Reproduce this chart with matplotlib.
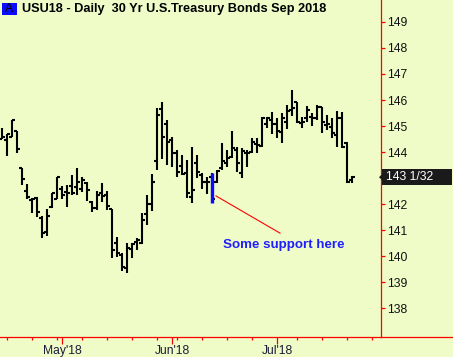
import matplotlib
matplotlib.use('Agg')
import matplotlib.pyplot as plt
import matplotlib.transforms as mtransforms
from matplotlib.patches import Rectangle, Polygon
from matplotlib.lines import Line2D
import numpy as np
import pandas as pd

plt.rcParams['font.family'] = ['Liberation Sans', 'DejaVu Sans']

# ---------------- data (USU18 daily OHLC) ----------------
opens = [144.50, 144.46, 144.58, 144.82, 143.38, 142.50, 142.15, 142.22, 141.46, 140.92,
         141.87, 142.19, 142.58, 142.47, 142.70, 142.65, 142.57, 142.80, 142.07, 141.83,
         142.41, 142.35, 141.81, 140.49, 140.04, 139.53, 140.27, 140.55, 140.49, 141.60,
         141.99, 143.65, 145.65, 145.08, 144.46, 143.95, 143.47, 143.18, 142.27, 143.57,
         143.12, 142.83, 143.05, 142.83, 143.40, 143.57, 143.82, 144.08, 143.18, 143.95,
         144.01, 144.30, 144.24, 145.07, 145.23, 145.07, 144.78, 145.17, 145.62, 145.91,
         145.10, 145.32, 145.36, 145.32, 145.74, 145.04, 144.97, 144.65, 145.30, 144.33,
         142.92]
highs = [144.91, 144.69, 145.23, 144.82, 143.38, 142.77, 142.22, 142.27, 141.54, 141.81,
         142.42, 143.04, 142.69, 142.73, 143.12, 143.37, 143.02, 142.85, 142.12, 142.50,
         142.80, 142.50, 141.81, 140.74, 140.10, 140.49, 140.49, 140.70, 141.64, 142.35,
         143.14, 145.68, 145.91, 145.23, 144.59, 144.08, 143.88, 143.69, 144.20, 143.88,
         143.18, 143.05, 143.18, 143.31, 144.33, 144.08, 144.81, 144.20, 144.14, 144.08,
         144.55, 144.55, 145.36, 145.36, 145.53, 145.30, 145.49, 145.81, 146.38, 145.93,
         145.36, 145.78, 145.49, 145.81, 145.74, 145.42, 145.30, 145.58, 145.55, 144.37,
         143.09]
lows = [144.49, 143.86, 144.57, 143.95, 142.73, 142.18, 141.64, 141.50, 140.70, 140.77,
        141.85, 142.18, 142.19, 141.90, 142.33, 142.35, 142.47, 142.12, 141.68, 141.77,
        142.09, 141.77, 139.93, 139.97, 139.42, 139.33, 139.93, 140.23, 140.45, 141.19,
        141.73, 143.31, 143.73, 143.50, 143.43, 143.05, 143.12, 142.24, 142.03, 142.99,
        142.58, 142.37, 142.03, 142.80, 143.31, 143.43, 143.76, 143.22, 143.01, 143.43,
        143.95, 143.95, 144.20, 144.91, 144.68, 144.53, 144.33, 144.88, 145.40, 145.10,
        144.93, 145.17, 145.01, 145.23, 144.72, 144.85, 144.55, 144.20, 144.14, 142.80,
        142.80]
closes = [144.59, 144.68, 145.23, 144.10, 142.95, 142.26, 142.18, 141.68, 140.90, 141.54,
          142.41, 143.03, 142.33, 142.41, 142.42, 142.85, 142.91, 142.54, 141.83, 142.35,
          142.31, 141.93, 140.23, 140.10, 139.59, 140.32, 140.45, 140.62, 141.38, 141.99,
          142.83, 145.42, 144.59, 144.37, 143.95, 143.24, 143.15, 142.41, 142.54, 143.24,
          142.83, 142.86, 142.20, 143.27, 143.65, 143.78, 144.14, 143.57, 144.04, 143.95,
          144.37, 144.27, 145.31, 145.32, 145.07, 144.81, 145.32, 145.58, 145.68, 145.14,
          145.17, 145.62, 145.30, 145.74, 145.14, 145.07, 144.72, 145.30, 144.20, 142.86,
          143.03125]
start_date = '2018-04-13'
end_date = '2018-07-31'
holidays = ['2018-05-28', '2018-07-04']
y_ticks = [138, 139, 140, 141, 142, 144, 145, 146, 147, 148, 149]  # 143 hidden by last-price box
month_labels = ["May'18", "Jun'18", "Jul'18"]
title = "USU18 - Daily  30 Yr U.S.Treasury Bonds Sep 2018"
last_label = "143 1/32"
support_idx = 42
note_text = "Some support here"

# ---------------- trading calendar ----------------
days = pd.bdate_range(start_date, end_date)
days = days[~days.isin(pd.to_datetime(holidays))]
pos = np.arange(len(days))
x = pos[:len(opens)]

month_pos = [i for i in range(1, len(days)) if days[i].month != days[i - 1].month]
week_pos = [i for i in range(1, len(days)) if days[i].isocalendar()[1] != days[i - 1].isocalendar()[1]]

# ---------------- figure ----------------
BG = '#effcc8'
W, H = 453, 357
fig = plt.figure(figsize=(W / 100, H / 100), dpi=100, facecolor=BG)
ax = fig.add_axes([0, 20 / H, 381 / W, 337 / H])
ax.set_facecolor(BG)

lw = 1.5
ax.vlines(x, lows, highs, color='black', lw=lw)
ax.hlines(opens, x - 0.55, x, color='black', lw=lw)
ax.hlines(closes, x, x + 0.55, color='black', lw=lw)

ax.set_xlim(-0.4, 75.8)
ax.set_ylim(136.885, 149.846)

for s in ['left', 'top']:
    ax.spines[s].set_visible(False)
for s in ['right', 'bottom']:
    ax.spines[s].set_color('red')
    ax.spines[s].set_linewidth(0.9)

ax.yaxis.tick_right()
ax.set_yticks(y_ticks)
ax.set_yticklabels([str(v) for v in y_ticks])
ax.tick_params(axis='y', which='major', colors='red', labelcolor='#111111',
               length=3.2, width=0.9, pad=1, labelsize=8.7)

ax.set_xticks(month_pos)
ax.set_xticklabels(month_labels)
ax.set_xticks([p for p in week_pos if p not in month_pos], minor=True)
ax.tick_params(axis='x', which='major', colors='red', labelcolor='#1c1c3a',
               length=5, width=0.9, pad=0.5, labelsize=8.7)
ax.tick_params(axis='x', which='minor', colors='red', length=2.2, width=0.9)

# bottom red line extended under the price scale
fig.add_artist(Line2D([381 / W, 1], [20 / H, 20 / H], transform=fig.transFigure,
                      color='red', lw=0.9))

# highlighted support bar and annotation
ax.vlines(x[support_idx], lows[support_idx], highs[support_idx], color='#0a0aff', lw=2.4, zorder=5)
ax.plot([42.8, 55.6], [142.31, 140.88], color='red', lw=0.8)
ax.text(44.2, 140.42, note_text, color='#1f1fff', fontweight='bold', fontsize=9.6,
        va='center', ha='left')

# last price box
bt = mtransforms.blended_transform_factory(fig.transFigure, ax.transData)
last = closes[-1]
ax.add_patch(Rectangle((382 / W, last - 0.30), 70 / W, 0.60, transform=bt,
                       facecolor='#1a1a1a', edgecolor='none', clip_on=False, zorder=6))
ax.add_patch(Polygon([[379 / W, last], [382.5 / W, last + 0.13], [382.5 / W, last - 0.13]],
                     closed=True, transform=bt, facecolor='#1a1a1a', edgecolor='none',
                     clip_on=False, zorder=6))
ax.text(385.5 / W, last, last_label, transform=bt, color='white', fontsize=8.7,
        va='center', ha='left', zorder=7, clip_on=False)

# title with "A" box
fig.add_artist(Rectangle((2 / W, 1 - 15.2 / H), 15 / W, 12.5 / H, transform=fig.transFigure,
                         facecolor='#0a0aff', edgecolor='none'))
fig.text(9.5 / W, 1 - 9 / H, 'A', color='black', fontsize=8.7, ha='center', va='center')
fig.text(21.5 / W, 1 - 8.8 / H, title, color='black', fontsize=9.2, fontweight='bold',
         ha='left', va='center')

fig.savefig('out.png', dpi=100, facecolor=BG)
